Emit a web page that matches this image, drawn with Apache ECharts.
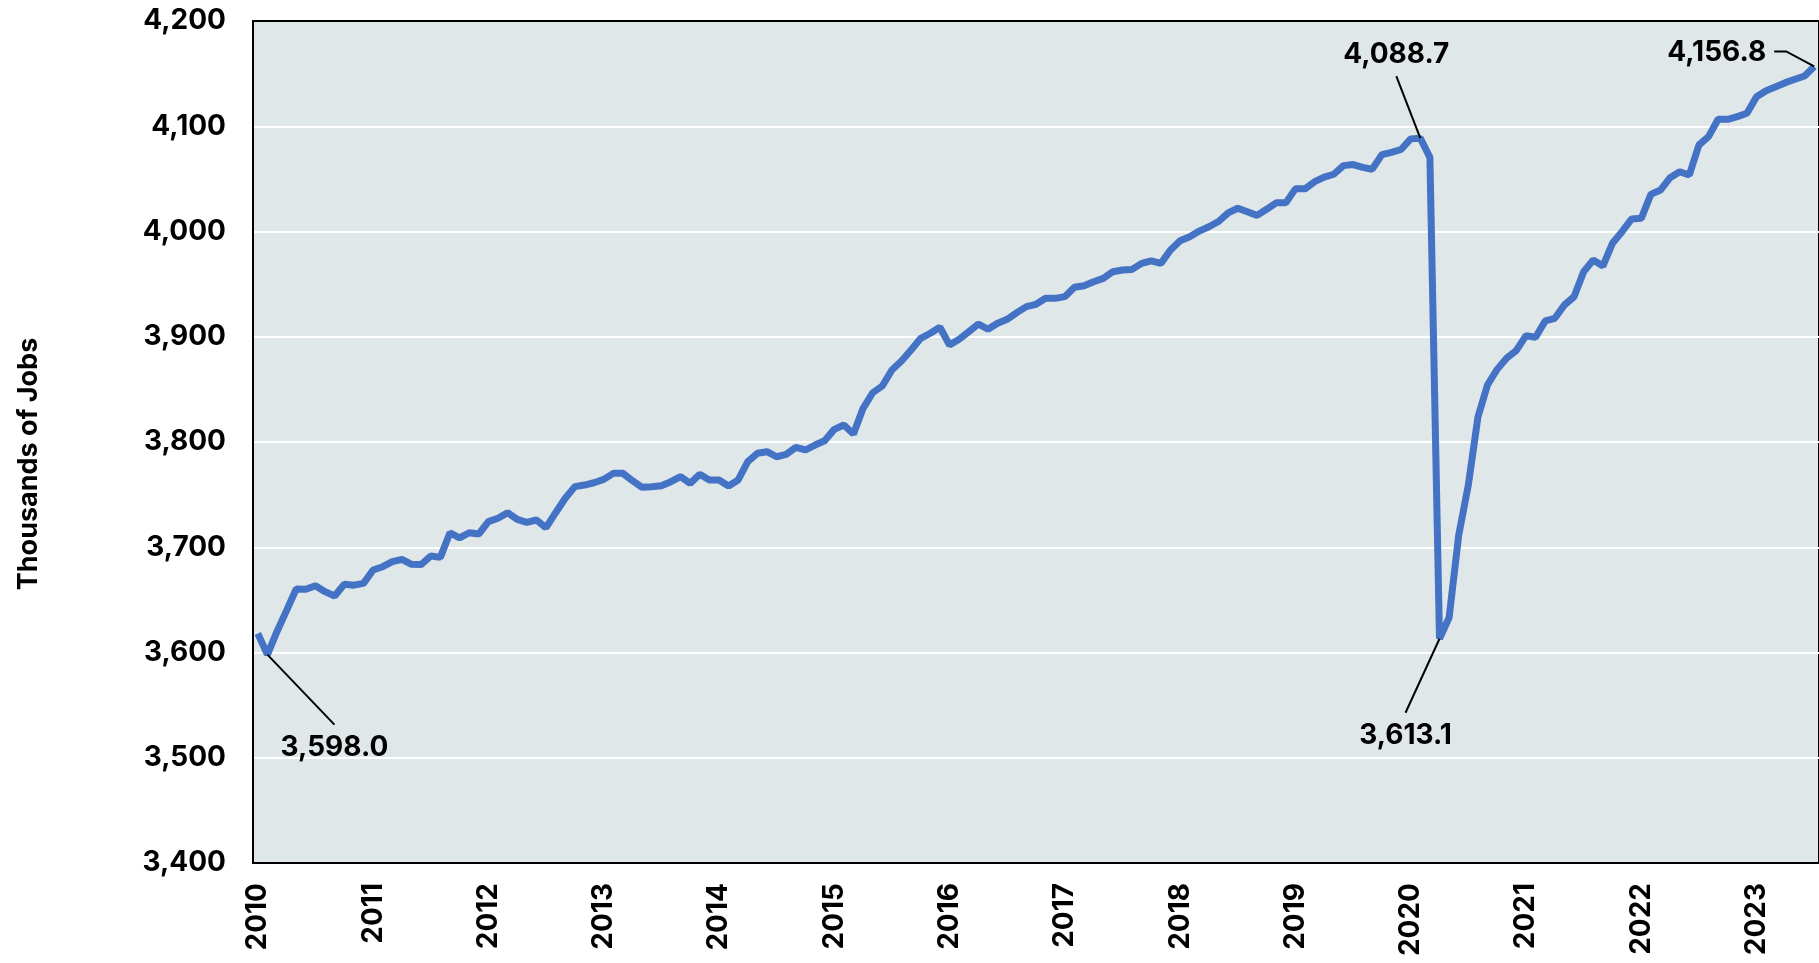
<!DOCTYPE html>
<html>
<head>
<meta charset="utf-8">
<script src="https://cdn.jsdelivr.net/npm/echarts@6/dist/echarts.min.js"></script>
<style>
html,body{margin:0;padding:0;background:#fff;}
#chart{width:1819px;height:963px;}
</style>
</head>
<body>
<div id="chart"></div>
<script>
// ---- data ----
const years = [2010,2011,2012,2013,2014,2015,2016,2017,2018,2019,2020,2021,2022,2023];
const jobValues = [
  3618.0,3598.0,3620.0,3640.0,3660.3,3660.0,3663.5,3657.8,3653.7,3664.8,3664.0,3665.7, // 2010
  3678.4,3681.5,3686.3,3688.5,3683.8,3683.5,3691.7,3690.4,3713.8,3709.0,3713.8,3712.6, // 2011
  3724.3,3727.5,3732.8,3726.5,3723.7,3725.9,3718.6,3732.8,3746.5,3757.6,3759.1,3761.3, // 2012
  3764.5,3770.2,3770.2,3763.2,3756.9,3757.5,3758.5,3762.3,3767.0,3760.7,3769.3,3763.9, // 2013
  3763.9,3758.2,3763.9,3781.3,3789.3,3790.8,3786.0,3788.3,3794.9,3792.4,3797.1,3801.2, // 2014
  3812.0,3816.2,3807.6,3832.0,3846.8,3853.2,3868.4,3877.0,3887.4,3898.5,3903.3,3909.0, // 2015
  3892.2,3897.6,3904.8,3912.1,3907.1,3912.8,3916.6,3922.9,3928.6,3930.8,3936.5,3936.5, // 2016
  3938.1,3947.0,3948.5,3952.3,3955.5,3961.8,3963.4,3964.0,3969.7,3972.2,3969.7,3982.4, // 2017
  3991.2,3995.0,4000.4,4004.5,4009.5,4017.7,4022.1,4018.7,4015.3,4021.1,4027.2,4027.2, // 2018
  4040.5,4040.5,4047.3,4051.7,4054.4,4062.6,4063.6,4060.9,4059.2,4073.1,4075.2,4077.9, // 2019
  4088.0,4088.7,4070.4,3613.1,3633.3,3711.6,3759.2,3823.8,3854.4,3869.0,3879.9,3887.0, // 2020
  3901.0,3899.6,3915.0,3917.5,3930.2,3938.0,3961.8,3972.9,3967.2,3988.8,3999.8,4011.9, // 2021
  4012.5,4035.3,4039.4,4051.1,4056.8,4053.7,4082.2,4090.1,4106.6,4106.6,4109.1,4112.3, // 2022
  4128.1,4133.8,4137.6,4141.4,4144.6,4147.8,4156.8                                     // 2023
];
const yTicks = [3400,3500,3600,3700,3800,3900,4000,4100,4200];
const annotationIdx = [1, 121, 123, 162];
const annotationText = ['3,598.0','4,088.7','3,613.1','4,156.8'];
const axisTitle = 'Thousands of Jobs';

// categories (one per month)
const categories = [];
years.forEach(y => { for (let m = 1; m <= 12; m++) categories.push(y + '-' + String(m).padStart(2,'0')); });
categories.length = jobValues.length;

// ---- styles / layout ----
const FONT = 'Inter';
const leaderLayout = [
  {pts:[[0,0],[67,70]], text:[67,93], align:'center'},
  {pts:[[0,0],[-24,-62]], text:[-24,-84], align:'center'},
  {pts:[[0,0],[-34,74]], text:[-34,97], align:'center'},
  {pts:[[0,0],[-28,-15],[-40,-15]], text:[-48,-14], align:'right'}
];

const chart = echarts.init(document.getElementById('chart'));
chart.setOption({
  animation:false,
  grid:{left:253, top:21, right:-2, bottom:100, show:true, backgroundColor:'#E0E7E9', borderColor:'#000', borderWidth:2},
  xAxis:{
    type:'category', data:categories, boundaryGap:true,
    axisLine:{show:true, lineStyle:{color:'#000', width:2}},
    axisTick:{show:false},
    axisLabel:{interval:(i)=> i%12===0, formatter:v=>v.slice(0,4), rotate:90, margin:20,
      color:'#000', fontFamily:FONT, fontWeight:700, fontSize:28},
    splitLine:{show:false}
  },
  yAxis:{
    type:'value', min:yTicks[0], max:yTicks[yTicks.length-1], interval:100,
    axisLine:{show:true, lineStyle:{color:'#000', width:2}},
    axisTick:{show:false},
    axisLabel:{formatter:v=>v.toLocaleString('en-US'), margin:27, color:'#000',
      fontFamily:FONT, fontWeight:700, fontSize:28},
    splitLine:{show:true, showMinLine:false, showMaxLine:false, lineStyle:{color:'#fff', width:2}}
  },
  series:[{
    type:'line', data:jobValues, symbol:'none', smooth:false,
    lineStyle:{color:'#4472C4', width:7}, z:3
  }]
});

function buildGraphics(){
  const g = [];
  annotationIdx.forEach((idx, k) => {
    const p = chart.convertToPixel({seriesIndex:0}, [idx, jobValues[idx]]);
    const L = leaderLayout[k];
    g.push({type:'polyline', z:100, silent:true,
      shape:{points:L.pts.map(q=>[p[0]+q[0], p[1]+q[1]])},
      style:{stroke:'#000', lineWidth:2, fill:null}});
    g.push({type:'text', z:100, silent:true, x:p[0]+L.text[0], y:p[1]+L.text[1],
      style:{text:annotationText[k], fill:'#000', font:'700 28px ' + FONT,
        textAlign:L.align, textVerticalAlign:'middle'}});
  });
  g.push({type:'text', z:100, silent:true, x:29, y:464, rotation:Math.PI/2,
    style:{text:axisTitle, fill:'#000', font:'700 27px ' + FONT, textAlign:'center', textVerticalAlign:'middle'}});
  chart.setOption({graphic:g});
}
buildGraphics();
</script>
</body>
</html>
